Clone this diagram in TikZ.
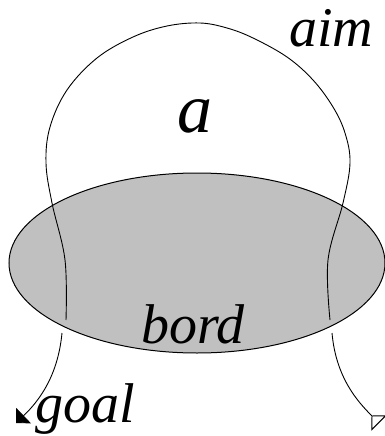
\documentclass[tikz,border=0pt]{standalone}
\usepackage{fontspec}
\setmainfont{Liberation Serif}
\usetikzlibrary{arrows.meta, shapes.geometric}
\definecolor{bordGray}{HTML}{C0C0C0}

\begin{document}
\begin{tikzpicture}[x=1pt, y=-1pt,
      disk/.style={ellipse, draw=black, fill=bordGray, line width=1pt,
                   minimum width=376pt, minimum height=180pt, inner sep=0pt},
      strand/.style={line width=0.9pt, black},
      lbl/.style={inner sep=0pt, anchor=base west, font=\itshape\fontsize{56}{60}\selectfont},
      big/.style={inner sep=0pt, anchor=base, font=\itshape\fontsize{70}{75}\selectfont}
    ]
    \useasboundingbox (0,0) rectangle (385,436);

    \node[disk] (bordDisk) at (197,263) {};

    \node[big] (aLbl) at (195,132) {a};
    \node[lbl] (aimLbl) at (289,47) {aim};
    \node[lbl] (bordLbl) at (141,343) {bord};
    \node[lbl] (goalLbl) at (35,422) {goal};

    % ends of the strands
    \coordinate (inL) at (66,320);
    \coordinate (inR) at (330,320);
    \coordinate (outL) at (62,333);
    \coordinate (outR) at (332,333);
    \coordinate (goalTip) at (16,423);
    \coordinate (aimEnd) at (379,423);

    % main loop
    \draw[strand] plot[smooth, tension=0.6] coordinates {
      (66,320) (65,260) (52,203) (46,163) (50,127) (67,90) (97,58) (133,37)
      (167,26) (200,23) (227,28) (253,38) (287,57) (313,80) (333,107)
      (345,133) (350,163) (343,203) (328,260) (330,320)};

    % tails
    \draw[strand, -{Triangle[angle=90:15pt]}] (outL)
      .. controls (58,375) and (40,400) .. (goalTip);
    \draw[strand, -{Triangle[open, reversed, angle=90:15pt]}] (outR)
      .. controls (336,378) and (358,402) .. (aimEnd);
  \end{tikzpicture}
\end{document}
